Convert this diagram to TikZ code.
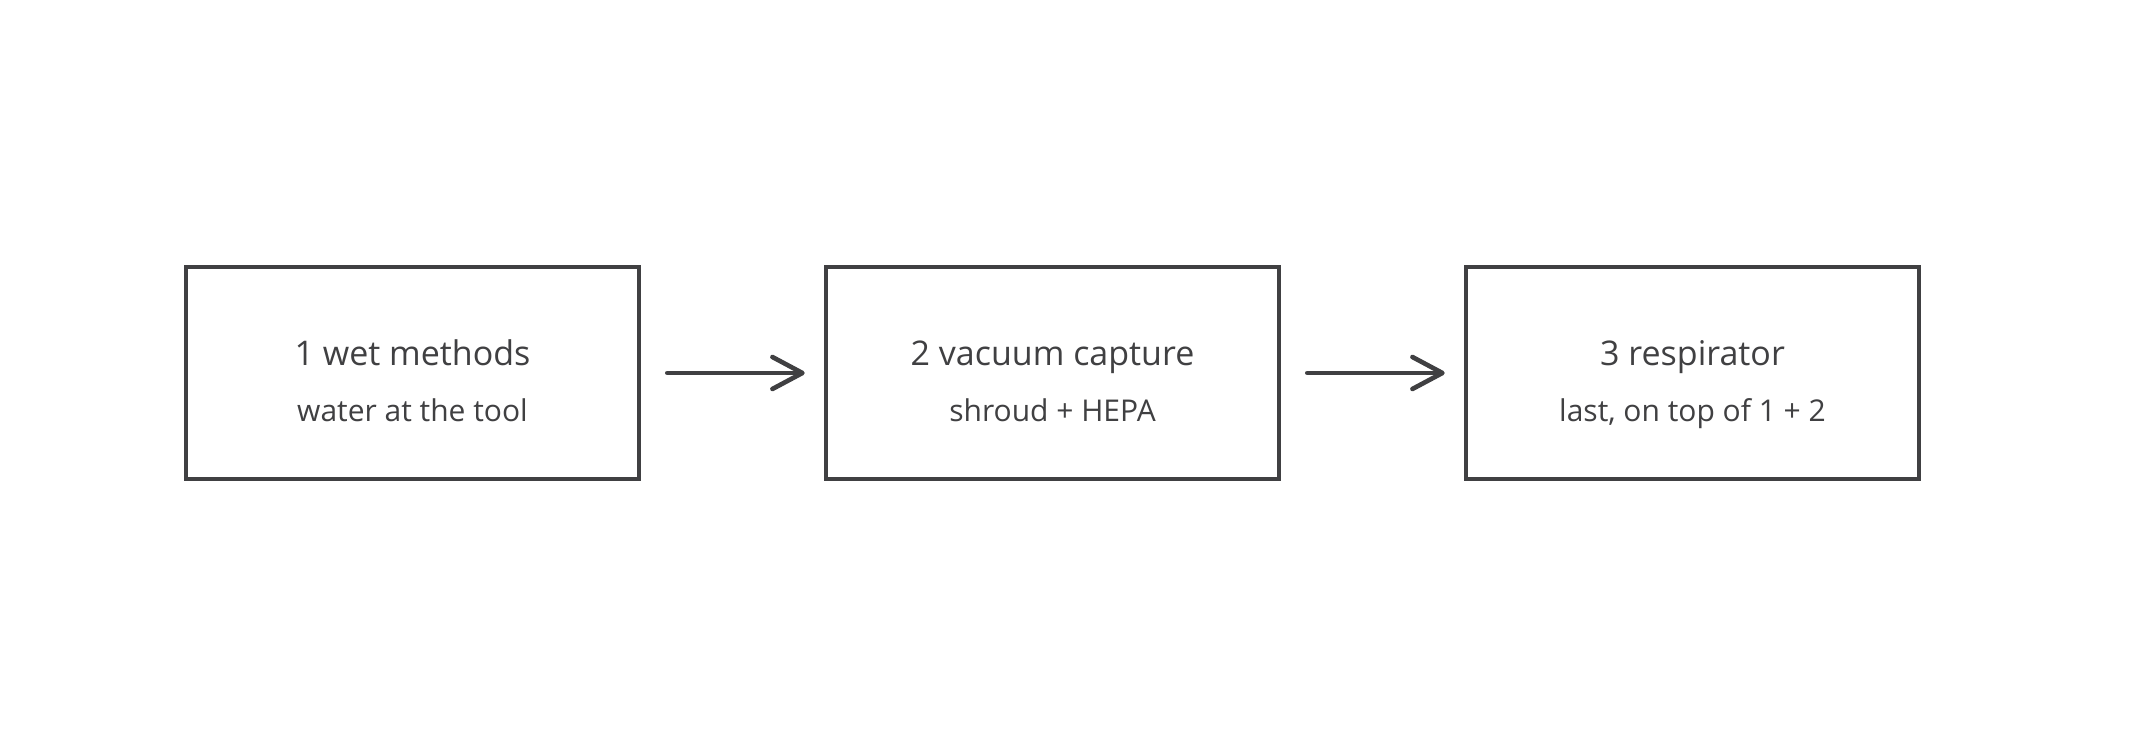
\documentclass[tikz,border=0pt]{standalone}
\usepackage{fontspec}
\setmainfont{Open Sans}
\usetikzlibrary{arrows.meta}
\definecolor{ink}{RGB}{64,64,66}
\begin{document}
\begin{tikzpicture}[x=0.5pt,y=-0.5pt,
  stepbox/.style={draw=ink,line width=2.3pt,minimum width=226.5pt,minimum height=106pt,inner sep=0pt},
  title/.style={text=ink,font=\fontsize{17}{20}\selectfont,inner sep=0pt,anchor=base},
  sub/.style={text=ink,font=\fontsize{15}{18}\selectfont,inner sep=0pt,anchor=base},
  flow/.style={draw=ink,line width=2.3pt,line cap=round,-{Straight Barb[length=15pt,width=16pt,line cap=round,line join=round]}}]
\useasboundingbox (0,0) rectangle (2133,747);
\fill[white] (0,0) rectangle (2133,747);
\node[stepbox] (b1) at (412.5,373) {};
\node[stepbox] (b2) at (1052.5,373) {};
\node[stepbox] (b3) at (1692.5,373) {};
\node[title] (t1) at (412.5,366) {1 wet methods};
\node[sub] (s1) at (412.5,422) {water at the tool};
\node[title] (t2) at (1052.5,366) {2 vacuum capture};
\node[sub] (s2) at (1052.5,422) {shroud + HEPA};
\node[title] (t3) at (1692.5,366) {3 respirator};
\node[sub] (s3) at (1692.5,422) {last, on top of 1 + 2};
\draw[flow] ([xshift=13pt]b1.east) -- ([xshift=-9.5pt]b2.west);
\draw[flow] ([xshift=13pt]b2.east) -- ([xshift=-9.5pt]b3.west);
\end{tikzpicture}
\end{document}
